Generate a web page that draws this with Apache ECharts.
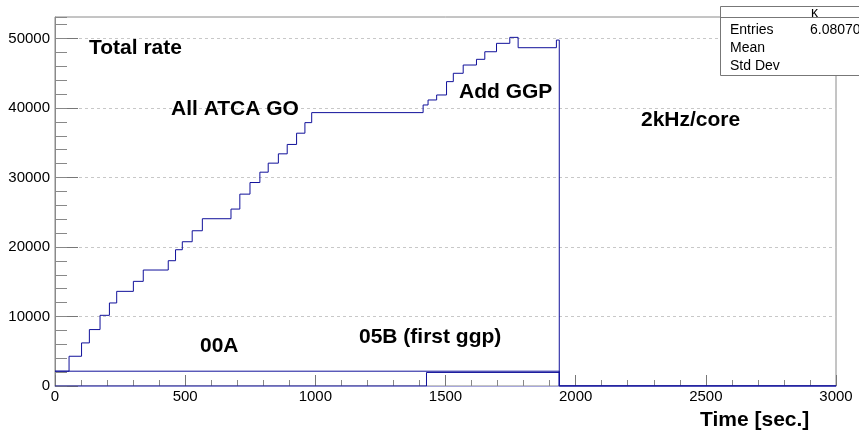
<!DOCTYPE html>
<html>
<head>
<meta charset="utf-8">
<script src="https://cdn.jsdelivr.net/npm/echarts@6/dist/echarts.min.js"></script>
<style>
html,body{margin:0;padding:0;background:#fff;}
#chart{width:859px;height:432px;}
</style>
</head>
<body>
<div id="chart"></div>
<script>
// Total rate histogram: bin start time [sec] and rate level
var totalTime = [0, 54, 102, 132, 173, 209, 237, 301, 339, 435, 463, 489, 527, 566, 676, 710, 749, 787, 819, 858, 892, 928, 960, 986, 1414, 1433, 1466, 1504, 1530, 1568, 1619, 1651, 1696, 1747, 1779, 1926, 1937, 3000];
var totalRate = [2130, 4280, 6200, 8120, 10170, 11950, 13620, 15060, 16690, 18030, 19610, 20760, 22340, 24070, 25460, 27610, 29280, 30770, 32070, 33410, 34760, 36380, 37900, 39340, 40440, 41160, 41880, 43800, 45000, 46190, 47010, 48100, 49310, 50170, 48680, 49780, 0, 0];
// 00A rate
var rate00ATime = [0, 1937, 3000];
var rate00A = [2130, 0, 0];
// 05B (first ggp) rate
var rate05BTime = [0, 1427, 1937, 3000];
var rate05B = [0, 1950, 0, 0];
// axis ticks
var xTicks = [0, 500, 1000, 1500, 2000, 2500, 3000];
var yTicks = [0, 10000, 20000, 30000, 40000, 50000];
// annotations
var labelsText = ["Total rate", "All ATCA GO", "Add GGP", "2kHz/core", "00A", "05B (first ggp)"];
var statsNames = ["Entries", "Mean", "Std Dev"];
var statsValues = ["6.08070", "", ""];

function pairs(xs, ys) { return xs.map(function (x, i) { return [x, ys[i]]; }); }

var lineColor = '#10109a';
var frameColor = '#8a8a8a';
var font = '"Liberation Sans", Arial, Helvetica, sans-serif';

var chart = echarts.init(document.getElementById('chart'), null, { renderer: 'canvas' });

var labelPos = [[89, 50], [171, 111], [459, 94], [641, 122], [200, 348], [359, 339]];
var graphics = [];
labelsText.forEach(function (t, i) {
  graphics.push({
    type: 'text', left: labelPos[i][0], top: labelPos[i][1] - 12, z: 50,
    style: { text: t, font: 'bold 21px ' + font, fill: '#000' }
  });
});
graphics.push({
  type: 'text', left: 700, top: 410, z: 50,
  style: { text: 'Time [sec.]', font: 'bold 21px ' + font, fill: '#000' }
});
// stats box
graphics.push({
  type: 'rect', z: 60,
  shape: { x: 720.5, y: 6.5, width: 200, height: 69 },
  style: { fill: '#fff', stroke: '#777', lineWidth: 1 }
});
graphics.push({
  type: 'line', z: 61,
  shape: { x1: 720.5, y1: 17.5, x2: 920, y2: 17.5 },
  style: { stroke: '#777', lineWidth: 1 }
});
graphics.push({
  type: 'text', z: 62, left: 811, top: 6,
  style: { text: 'κ', font: '14px ' + font, fill: '#000' }
});
statsNames.forEach(function (n, i) {
  graphics.push({
    type: 'text', z: 62, left: 730, top: 23 + i * 18.3,
    style: { text: n, font: '14px ' + font, fill: '#000' }
  });
  if (statsValues[i]) {
    graphics.push({
      type: 'text', z: 62, left: 810, top: 23 + i * 18.3,
      style: { text: statsValues[i], font: '14px ' + font, fill: '#000' }
    });
  }
});

function plain(v) { return String(v); }

var option = {
  animation: false,
  backgroundColor: '#fff',
  grid: {
    left: 55, right: 23, top: 17, bottom: 46,
    show: true, borderColor: frameColor, borderWidth: 1, backgroundColor: 'transparent'
  },
  xAxis: [{
    type: 'value', min: xTicks[0], max: xTicks[xTicks.length - 1], interval: xTicks[1] - xTicks[0],
    axisLine: { show: true, lineStyle: { color: '#a8a8dc', width: 1 } },
    axisTick: { show: true, inside: true, length: 11, lineStyle: { color: '#777' } },
    minorTick: { show: true, splitNumber: 5, length: 6, lineStyle: { color: '#888' } },
    splitLine: { show: false },
    axisLabel: { fontSize: 15, color: '#000', fontFamily: font, margin: 3, formatter: plain }
  }],
  yAxis: [{
    type: 'value', min: yTicks[0], max: 53100, interval: yTicks[1] - yTicks[0],
    axisLine: { show: true, lineStyle: { color: frameColor, width: 1 } },
    axisTick: { show: true, inside: true, length: 23, lineStyle: { color: '#777' } },
    splitLine: { show: true, showMinLine: false, showMaxLine: false, lineStyle: { color: '#c8c8c8', type: [3, 3], width: 1 } },
    axisLabel: { fontSize: 15, color: '#000', fontFamily: font, margin: 5, showMaxLabel: false, formatter: plain }
  }, {
    type: 'value', min: yTicks[0], max: 53100, interval: (yTicks[1] - yTicks[0]) / 5,
    position: 'left',
    axisLine: { show: false },
    axisTick: { show: true, inside: true, length: 12, lineStyle: { color: '#888' } },
    splitLine: { show: false },
    axisLabel: { show: false }
  }],
  series: [{
    type: 'line', step: 'end', showSymbol: false, symbol: 'none', z: 3,
    data: pairs(rate00ATime, rate00A),
    lineStyle: { color: lineColor, width: 1 }
  }, {
    type: 'line', step: 'end', showSymbol: false, symbol: 'none', z: 3,
    data: pairs(rate05BTime, rate05B),
    lineStyle: { color: lineColor, width: 1 }
  }, {
    type: 'line', step: 'end', showSymbol: false, symbol: 'none', z: 4,
    data: pairs(totalTime, totalRate),
    lineStyle: { color: lineColor, width: 1 }
  }],
  graphic: graphics
};
chart.setOption(option);
</script>
</body>
</html>
